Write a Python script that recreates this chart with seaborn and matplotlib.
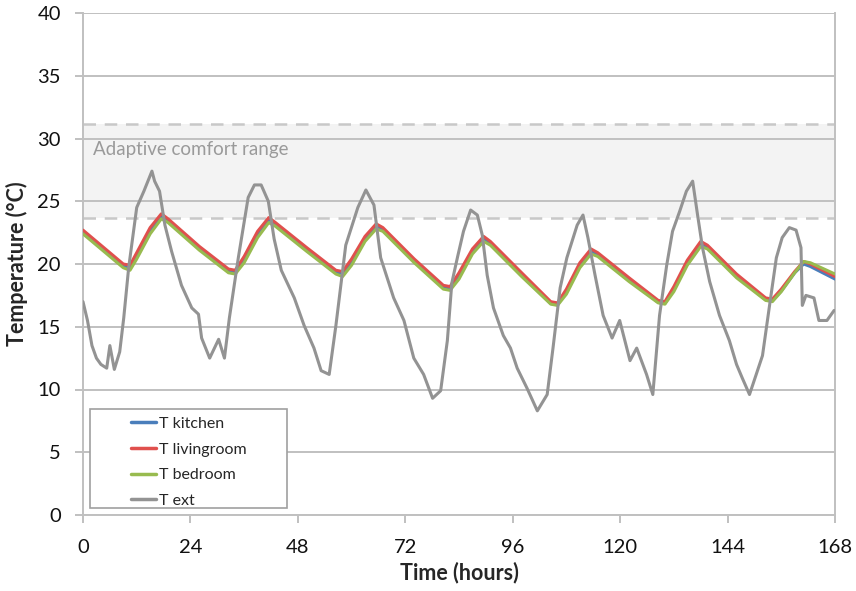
import matplotlib
matplotlib.use("Agg")
import matplotlib.pyplot as plt
from matplotlib.patches import Rectangle
import seaborn as sns
import pandas as pd

# ---- data ----
ext_hours = [0, 1, 2, 3, 4, 5.3, 6, 7, 8.2, 9.1, 10.2, 12, 13.6, 15.4, 16, 17.1, 18.3, 19.8,
             22, 24.3, 25.8, 26.5, 28.3, 30.3, 31.6, 32.7, 34.7, 36.9, 38.3, 39.8, 41.4, 42.7,
             44.3, 47.2, 49.4, 51.6, 53.2, 55, 56.5, 58.7, 61.4, 63.2, 65, 66.5, 69.4, 71.7,
             73.9, 76.1, 78.1, 79.9, 81.4, 82.4, 83.7, 85, 86.6, 88.1, 89.2, 90.3, 91.7, 93.9,
             95.5, 97, 99.2, 101.5, 103.7, 105, 106.6, 108.1, 110.4, 111.7, 112.8, 114.4, 116.2,
             118.2, 119.9, 122.2, 123.7, 125.9, 127.3, 128.8, 130.4, 131.7, 133.3, 134.8, 136.2,
             137.3, 138.4, 140, 142.2, 144.4, 146, 147.3, 148.9, 150.4, 151.8, 153.3, 154.9,
             156.2, 157.8, 159.3, 160.4, 160.7, 161.5, 163.3, 164.4, 166.2, 167.8]
t_ext = [17.0, 15.5, 13.5, 12.5, 12.0, 11.7, 13.5, 11.6, 13.0, 15.7, 19.7, 24.5, 25.8, 27.4, 26.6,
         25.8, 23.1, 21.0, 18.3, 16.5, 16.0, 14.1, 12.5, 14.0, 12.5, 15.7, 20.5, 25.3, 26.3, 26.3,
         25.0, 22.0, 19.5, 17.3, 15.1, 13.3, 11.5, 11.2, 15.1, 21.5, 24.5, 25.9, 24.7, 20.5, 17.3,
         15.5, 12.5, 11.2, 9.3, 9.9, 13.9, 18.5, 20.6, 22.6, 24.3, 23.9, 22.3, 19.1, 16.5, 14.3,
         13.3, 11.7, 10.1, 8.3, 9.6, 13.3, 18.1, 20.5, 23.1, 23.9, 22.1, 19.1, 15.9, 14.1, 15.5,
         12.3, 13.3, 11.2, 9.6, 15.9, 19.9, 22.6, 24.2, 25.8, 26.6, 23.9, 21.3, 18.6, 15.9, 13.9,
         12.0, 10.9, 9.6, 11.2, 12.7, 16.5, 20.5, 22.1, 22.9, 22.7, 21.3, 16.7, 17.5, 17.3, 15.5,
         15.5, 16.3]

in_hours = [0, 5, 9, 10.5, 12, 15, 17.5, 19, 26, 32.5, 34, 36, 39, 41.5, 43, 50, 56.5, 58, 60,
            63, 65.5, 67, 74, 80.5, 82, 84, 87, 89.5, 91, 98, 104.5, 106, 108, 111, 113.5, 115,
            122, 128.5, 130, 132, 135, 138, 139.5, 146, 152.5, 154, 156, 159, 161, 162.5, 168]
t_living = [22.7, 21.2, 20.0, 19.9, 20.9, 22.9, 24.0, 23.6, 21.4, 19.6, 19.5, 20.6, 22.6, 23.7,
            23.3, 21.3, 19.5, 19.4, 20.4, 22.2, 23.2, 22.9, 20.4, 18.3, 18.2, 19.3, 21.2, 22.2,
            21.8, 19.3, 17.0, 16.9, 18.0, 20.1, 21.2, 20.9, 18.9, 17.1, 17.0, 18.2, 20.3, 21.8,
            21.5, 19.2, 17.3, 17.2, 18.0, 19.4, 20.2, 20.0, 19.0]
t_kitchen = [22.55, 21.05, 19.85, 19.75, 20.7, 22.7, 23.85, 23.45, 21.25, 19.45, 19.35, 20.4,
             22.4, 23.55, 23.15, 21.15, 19.35, 19.25, 20.2, 22.0, 23.05, 22.75, 20.25, 18.15,
             18.05, 19.1, 21.0, 22.05, 21.65, 19.15, 16.85, 16.75, 17.8, 19.9, 21.05, 20.75,
             18.75, 16.95, 16.85, 18.0, 20.1, 21.65, 21.35, 19.05, 17.15, 17.05, 17.85, 19.3,
             20.0, 19.8, 18.8]
t_bedroom = [22.4, 20.9, 19.7, 19.5, 20.4, 22.4, 23.6, 23.3, 21.1, 19.3, 19.2, 20.1, 22.1, 23.3,
             23.0, 21.0, 19.2, 19.0, 19.9, 21.8, 22.8, 22.6, 20.1, 18.0, 17.9, 18.8, 20.8, 21.8,
             21.5, 19.0, 16.8, 16.7, 17.6, 19.7, 20.8, 20.6, 18.6, 16.9, 16.8, 17.8, 19.9, 21.4,
             21.2, 18.9, 17.1, 17.0, 17.8, 19.3, 20.2, 20.1, 19.2]

comfort_low = 23.7
comfort_high = 31.15
x_ticks = [0, 24, 48, 72, 96, 120, 144, 168]
y_ticks = [0, 5, 10, 15, 20, 25, 30, 35, 40]

series_names = ["T kitchen", "T livingroom", "T bedroom", "T ext"]
colors = ["#4a7ebb", "#e0504d", "#98bb4f", "#939393"]

# ---- build long-form table ----
frames = []
for name, hrs, vals in [("T kitchen", in_hours, t_kitchen),
                        ("T livingroom", in_hours, t_living),
                        ("T bedroom", in_hours, t_bedroom),
                        ("T ext", ext_hours, t_ext)]:
    frames.append(pd.DataFrame({"Time": hrs, "Temp": vals, "series": name}))
df = pd.concat(frames, ignore_index=True)

sns.set_style("white")
plt.rcParams["font.family"] = ["Lato", "DejaVu Sans"]

fig = plt.figure(figsize=(8.56, 5.91), dpi=100)
ax = fig.add_axes([83 / 856, 1 - 515 / 591, (835 - 83) / 856, (515 - 13) / 591])

grid_c = "#c0c0c0"
# comfort band
ax.axhspan(comfort_low, comfort_high, color="#f3f3f3", zorder=0, lw=0)
for yv in y_ticks:
    ax.axhline(yv, color=grid_c, lw=1.4, zorder=1)
ax.axhline(comfort_low, color="#c8c8c8", lw=1.8, ls=(0, (5, 3.5)), zorder=1.5)
ax.axhline(comfort_high, color="#c8c8c8", lw=1.8, ls=(0, (5, 3.5)), zorder=1.5)

sns.lineplot(data=df, x="Time", y="Temp", hue="series", hue_order=series_names,
             palette=colors, linewidth=2.2, ax=ax, legend=False, sort=False,
             estimator=None, zorder=3)

ax.text(2.2, 29.1, "Adaptive comfort range", color="#9a9a9a", fontsize=13.5,
        va="center", ha="left")

ax.set_xlim(0, 168)
ax.set_ylim(0, 40)
ax.set_xticks(x_ticks)
ax.set_yticks(y_ticks)
ax.tick_params(axis="both", labelsize=14.5, color=grid_c, length=6, width=1.4,
               direction="out", labelcolor="#111111")
ax.tick_params(axis="x", pad=11)
ax.tick_params(axis="y", pad=10)
ax.tick_params(axis="both", bottom=True, left=True)
for s in ["left", "right", "bottom"]:
    ax.spines[s].set_color(grid_c)
    ax.spines[s].set_linewidth(1.4)
ax.spines["top"].set_visible(False)
ax.set_xlabel("Time (hours)", fontsize=15.5, fontweight="bold", labelpad=4)
ax.set_ylabel("Temperature (°C)", fontsize=15.5, fontweight="bold", labelpad=7)

# legend
handles = [plt.Line2D([0], [0], color=c, lw=2.5) for c in colors]
ax.add_patch(Rectangle((7 / 752, 7 / 502), (287 - 90) / 752, (508 - 409) / 502,
                       transform=ax.transAxes, fill=True, facecolor="white",
                       edgecolor="#a0a0a0", lw=1.2, zorder=4))
leg = ax.legend(handles, series_names, loc="upper left",
                bbox_to_anchor=((126 - 83) / 752, (515 - 412) / 502),
                frameon=False, fontsize=11.5, handlelength=1.6, handletextpad=0.15,
                labelspacing=0.72, borderaxespad=0, borderpad=0.3)
leg.set_zorder(5)

fig.savefig("out.png", dpi=100)
